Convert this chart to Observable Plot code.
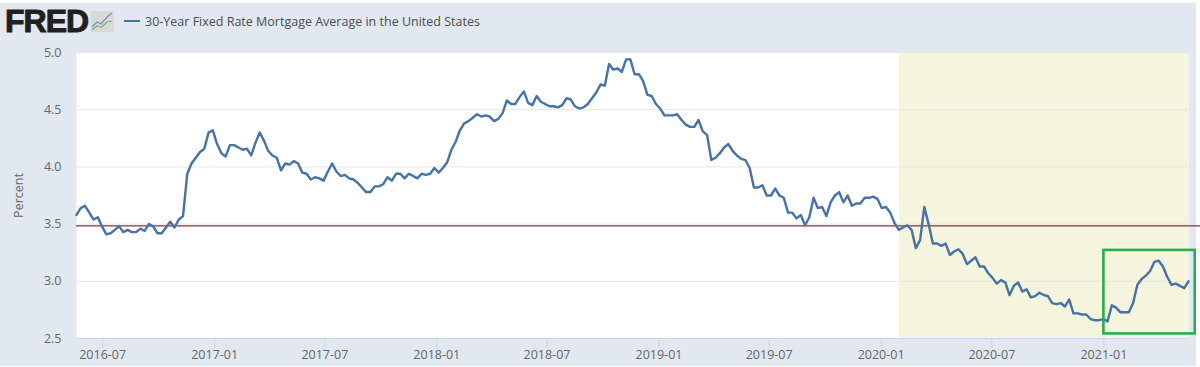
<!DOCTYPE html>
<html><head><meta charset="utf-8">
<script src="https://cdn.jsdelivr.net/npm/d3@7"></script>
<script src="https://cdn.jsdelivr.net/npm/@observablehq/plot@0.6"></script>
<style>
html,body{margin:0;padding:0;background:#fff;overflow:hidden}
#wrap{position:relative;width:1200px;height:367px}
#bg{position:absolute;left:0;top:3px;width:1196px;height:363px;background:#e1e8f0}
#chart{position:absolute;left:0;top:0}
#chart svg{background:transparent;display:block}
#logo{position:absolute;left:5px;top:3px;font:900 32px/36px "Liberation Sans",sans-serif;color:#231f20;letter-spacing:-1px;-webkit-text-stroke:1px #231f20}
#icon{position:absolute;left:91px;top:11px}
#key{position:absolute;left:124px;top:20px;width:16px;height:2px;background:#4572a7}
#title{position:absolute;left:145px;top:14px;font:12.5px/16px "Open Sans",sans-serif;color:#4d4d4d;white-space:nowrap}
</style></head><body>
<div id="wrap"><div id="bg"></div><div id="chart"></div>
<div id="logo">FRED</div>
<svg id="icon" width="23" height="21"><rect width="23" height="21" fill="#d9dad8"/><polyline points="1,16 6,11 10,13 16,6 21,2" fill="none" stroke="#6f93bd" stroke-width="1.2"/><polyline points="1,19 6,15 11,16 16,11 21,10" fill="none" stroke="#86b060" stroke-width="1.2"/></svg>
<div id="key"></div><div id="title">30-Year Fixed Rate Mortgage Average in the United States</div></div>
<script>
const rates2016 = [3.58,3.64,3.66,3.60,3.54,3.56,3.48,3.41,3.42,3.45,3.48,3.43,3.45,3.43,3.43,3.46,3.44,3.50,3.48,3.42,3.42,3.47,3.52,3.47,3.54,3.57,3.94,4.03,4.08,4.13,4.16,4.30,4.32];
const rates2017 = [4.20,4.12,4.09,4.19,4.19,4.17,4.15,4.16,4.10,4.21,4.30,4.23,4.14,4.10,4.08,3.97,4.03,4.02,4.05,4.03,3.95,3.94,3.89,3.91,3.90,3.88,3.96,4.03,3.96,3.92,3.93,3.90,3.89,3.86,3.82,3.78,3.78,3.83,3.83,3.85,3.91,3.88,3.94,3.94,3.90,3.94,3.92,3.90,3.94,3.93,3.94,3.99];
const rates2018 = [3.95,3.99,4.04,4.15,4.22,4.32,4.38,4.40,4.43,4.46,4.44,4.45,4.44,4.40,4.42,4.47,4.58,4.55,4.55,4.61,4.66,4.56,4.54,4.62,4.57,4.55,4.53,4.53,4.52,4.54,4.60,4.59,4.53,4.51,4.52,4.55,4.60,4.65,4.72,4.71,4.90,4.85,4.86,4.83,4.94,4.94,4.81,4.81,4.75,4.63,4.62,4.55];
const rates2019 = [4.51,4.45,4.45,4.45,4.46,4.41,4.37,4.35,4.35,4.41,4.31,4.28,4.06,4.08,4.12,4.17,4.20,4.14,4.10,4.07,4.06,3.99,3.82,3.82,3.84,3.75,3.75,3.81,3.75,3.73,3.60,3.60,3.55,3.58,3.49,3.56,3.73,3.64,3.65,3.57,3.69,3.75,3.78,3.69,3.75,3.66,3.68,3.68,3.73,3.73,3.74,3.72];
const rates2020 = [3.64,3.65,3.60,3.51,3.45,3.47,3.49,3.45,3.29,3.36,3.65,3.50,3.33,3.33,3.31,3.33,3.23,3.26,3.28,3.24,3.15,3.18,3.21,3.13,3.13,3.07,3.03,2.98,3.01,2.99,2.88,2.96,2.99,2.91,2.93,2.86,2.87,2.90,2.88,2.87,2.81,2.80,2.81,2.78,2.84,2.72,2.72,2.71,2.71,2.67,2.66,2.66,2.67];
const rates2021 = [2.65,2.79,2.77,2.73,2.73,2.73,2.81,2.97,3.02,3.05,3.09,3.17,3.18,3.13,3.04,2.97,2.98,2.96,2.94,3.00];
const rates = [...rates2016,...rates2017,...rates2018,...rates2019,...rates2020,...rates2021];
const firstWeek = "2016-05-19", lastWeek = "2021-05-20";
const weeks = d3.utcThursday.range(new Date(firstWeek), d3.utcDay.offset(new Date(lastWeek),1));
const data = weeks.map((d,i)=>({date:d,rate:rates[i]}));
const xTicks = ["2016-07-01","2017-01-01","2017-07-01","2018-01-01","2018-07-01","2019-01-01","2019-07-01","2020-01-01","2020-07-01","2021-01-01"].map(d=>new Date(d));
const yTicks = [2.5,3,3.5,4,4.5,5];
const shade = [{x1:new Date("2020-01-31"),x2:new Date(lastWeek),y1:2.5,y2:5}];
const box = [{x1:new Date("2021-01-01"),x2:new Date("2021-05-31"),y1:2.54,y2:3.27}];
const refLine = [{x1:new Date(firstWeek),x2:new Date("2021-06-10"),y:3.485}];
const chart = Plot.plot({
  width:1200,height:367,marginLeft:76,marginRight:12,marginTop:52,marginBottom:29,
  style:{fontFamily:'"Open Sans",sans-serif',fontSize:"12.5px",background:"transparent",color:"#666"},
  x:{type:"utc",domain:[new Date(firstWeek),new Date(lastWeek)]},
  y:{domain:[2.5,5]},
  marks:[
    Plot.frame({fill:"white",stroke:null}),
    Plot.rect(shade,{x1:"x1",x2:"x2",y1:"y1",y2:"y2",fill:"#f4f5dc"}),
    Plot.gridY(yTicks.slice(1),{stroke:"#e6e6e6",strokeOpacity:1}),
    Plot.axisY(yTicks,{tickSize:0,tickPadding:15,tickFormat:d3.format(".1f"),fill:"#666",label:"Percent",labelAnchor:"center",labelArrow:"none",labelOffset:62,fontSize:12.5}),
    Plot.axisX(xTicks,{tickSize:10,tickPadding:2,tickFormat:d3.utcFormat("%Y-%m"),stroke:"#ccd6eb",fill:"#666",label:null,fontSize:12.5}),
    Plot.ruleY([2.5],{stroke:"#ccd6eb"}),
    Plot.ruleY(refLine,{x1:"x1",x2:"x2",y:"y",stroke:"#8c2f3f",strokeWidth:1.2}),
    Plot.lineY(data,{x:"date",y:"rate",stroke:"#4572a7",strokeWidth:2.4,curve:"linear"}),
    Plot.rect(box,{x1:"x1",x2:"x2",y1:"y1",y2:"y2",fill:"none",stroke:"#22b14c",strokeWidth:2.6,clip:false})
  ]
});
document.getElementById("chart").append(chart);
</script></body></html>
